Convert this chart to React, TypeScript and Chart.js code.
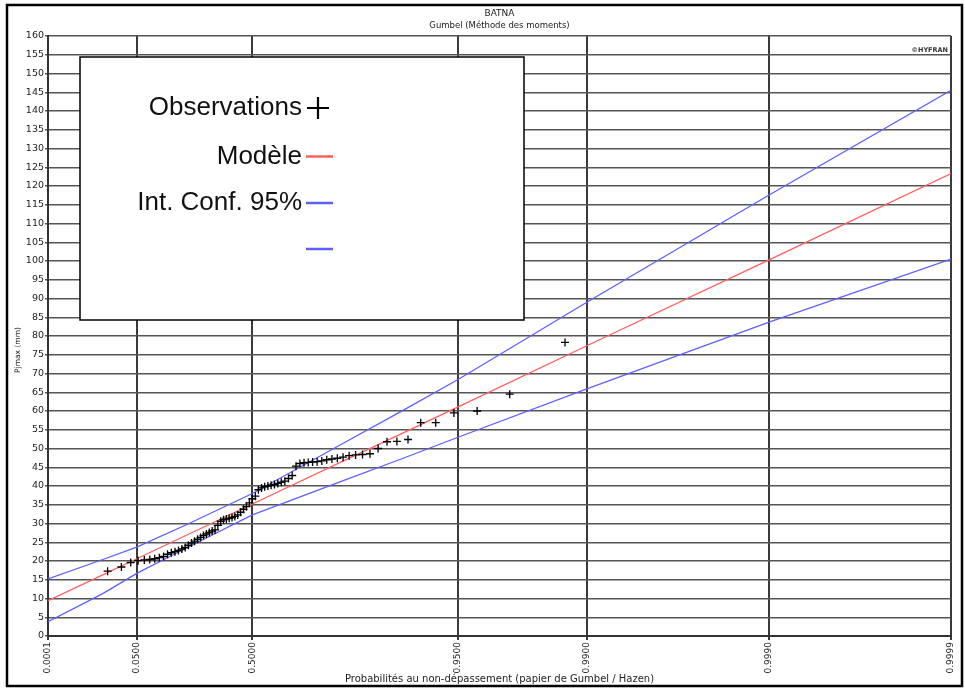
import React, { useEffect, useRef } from "react";
import { Chart, registerables } from "chart.js";

Chart.register(...registerables);

const TITLE = "BATNA";
const SUBTITLE = "Gumbel (Méthode des moments)";
const X_TITLE = "Probabilités au non-dépassement (papier de Gumbel / Hazen)";
const Y_TITLE = "Pjmax (mm)";
const LOGO = "©HYFRAN";

const legendLabels = ["Observations", "Modèle", "Int. Conf. 95%", ""];

// x-axis tick probabilities (Gumbel paper)
const tickProbs = [0.0001, 0.05, 0.5, 0.95, 0.99, 0.999, 0.9999];
const tickLabels = ["0.0001", "0.0500", "0.5000", "0.9500", "0.9900", "0.9990", "0.9999"];

// sorted observed annual maxima (mm), plotted at rank/(n+1)
const observations = [
  17.3, 18.4, 19.6, 20.1, 20.3, 20.4, 20.6, 20.9, 21.2, 21.8,
  22.2, 22.5, 22.8, 23.2, 23.6, 24.2, 24.8, 25.3, 25.8, 26.3,
  26.8, 27.2, 27.6, 28.0, 28.3, 29.5, 30.6, 31.0, 31.2, 31.4,
  31.6, 31.9, 32.3, 33.0, 33.8, 34.5, 35.5, 36.6, 37.3, 39.0,
  39.5, 39.8, 40.0, 40.2, 40.4, 40.7, 41.0, 41.3, 42.0, 42.8,
  45.3, 46.0, 46.2, 46.3, 46.4, 46.5, 46.7, 47.0, 47.2, 47.4,
  47.7, 48.1, 48.3, 48.4, 48.6, 50.0, 51.8, 51.9, 52.4, 56.9,
  56.9, 59.5, 60.0, 64.5, 78.3,
];

// model and 95% confidence bounds read at these probabilities
const curveProbs = [0.0001, 0.01, 0.05, 0.2, 0.5, 0.8, 0.9, 0.95, 0.99, 0.999, 0.9999];
const modelValues = [9.4, 16.3, 20.6, 26.8, 35.2, 46.5, 53.9, 61.1, 77.4, 100.3, 123.3];
const upperValues = [15.2, 20.4, 23.7, 29.6, 38.0, 51.2, 59.9, 68.4, 89.0, 117.6, 145.5];
const lowerValues = [3.8, 11.3, 16.7, 23.4, 32.3, 41.3, 47.2, 53.0, 65.9, 83.7, 100.5];

const gumbel = (p: number) => -Math.log(-Math.log(p));

const RED = "rgb(255,95,95)";
const BLUE = "rgb(95,95,255)";

const decorPlugin = {
  id: "decor",
  afterDraw(chart: any) {
    const ctx = chart.ctx as CanvasRenderingContext2D;
    const { left, right, top, bottom } = chart.chartArea;
    const cx = (left + right) / 2;
    ctx.save();

    // outer frame
    ctx.strokeStyle = "#000";
    ctx.lineWidth = 2.5;
    ctx.strokeRect(7, 5, 955, 681);

    // titles
    ctx.fillStyle = "#222";
    ctx.textAlign = "center";
    ctx.textBaseline = "middle";
    ctx.font = "9px 'DejaVu Sans'";
    ctx.fillText(TITLE, cx, 14);
    ctx.font = "8.5px 'DejaVu Sans'";
    ctx.fillText(SUBTITLE, cx, 26);

    // x title
    ctx.font = "10px 'DejaVu Sans'";
    ctx.fillText(X_TITLE, cx, 679);

    // y title
    ctx.save();
    ctx.translate(18, 350);
    ctx.rotate(-Math.PI / 2);
    ctx.font = "7.5px 'DejaVu Sans'";
    ctx.fillText(Y_TITLE, 0, 0);
    ctx.restore();

    // logo
    ctx.font = "bold 6.5px 'DejaVu Sans'";
    ctx.textAlign = "right";
    ctx.fillStyle = "#333";
    ctx.fillText(LOGO, right - 3, 50);

    // legend box
    const bx = 80, by = 57, bw = 444, bh = 263;
    ctx.fillStyle = "#fff";
    ctx.fillRect(bx, by, bw, bh);
    ctx.strokeStyle = "#000";
    ctx.lineWidth = 1.5;
    ctx.strokeRect(bx, by, bw, bh);

    const rowsY = [108, 156.5, 203, 249];
    ctx.font = "26px 'Liberation Sans'";
    ctx.fillStyle = "#111";
    ctx.textAlign = "right";
    ctx.textBaseline = "middle";
    legendLabels.forEach((t, i) => {
      if (t) ctx.fillText(t, 302, rowsY[i]);
    });
    // cross symbol
    ctx.strokeStyle = "#000";
    ctx.lineWidth = 2.2;
    ctx.beginPath();
    ctx.moveTo(307, rowsY[0]);
    ctx.lineTo(329, rowsY[0]);
    ctx.moveTo(318, rowsY[0] - 11);
    ctx.lineTo(318, rowsY[0] + 11);
    ctx.stroke();
    // line symbols
    const symColors = [RED, BLUE, BLUE];
    symColors.forEach((c, i) => {
      ctx.strokeStyle = c;
      ctx.lineWidth = 2.5;
      ctx.beginPath();
      ctx.moveTo(306, rowsY[i + 1]);
      ctx.lineTo(333, rowsY[i + 1]);
      ctx.stroke();
    });

    ctx.restore();
  },
};

export default function App() {
  const ref = useRef<HTMLCanvasElement | null>(null);

  useEffect(() => {
    if (!ref.current) return;
    const n = observations.length;
    const obsData = observations.map((v, i) => ({ x: gumbel((i + 1) / (n + 1)), y: v }));
    const mk = (vals: number[]) => vals.map((v, i) => ({ x: gumbel(curveProbs[i]), y: v }));
    const tickU = tickProbs.map(gumbel);

    const chart = new Chart(ref.current, {
      type: "scatter",
      data: {
        datasets: [
          {
            label: legendLabels[0],
            data: obsData,
            pointStyle: "cross",
            pointRadius: 4,
            pointBorderWidth: 1.3,
            borderColor: "#000",
            backgroundColor: "#000",
            showLine: false,
          } as any,
          {
            label: legendLabels[1],
            data: mk(modelValues),
            showLine: true,
            borderColor: RED,
            borderWidth: 1.3,
            pointRadius: 0,
          },
          {
            label: legendLabels[2],
            data: mk(upperValues),
            showLine: true,
            borderColor: BLUE,
            borderWidth: 1.3,
            pointRadius: 0,
          },
          {
            label: "",
            data: mk(lowerValues),
            showLine: true,
            borderColor: BLUE,
            borderWidth: 1.3,
            pointRadius: 0,
          },
        ],
      },
      options: {
        animation: false,
        responsive: false,
        maintainAspectRatio: false,
        devicePixelRatio: 1,
        layout: { padding: { left: 0, top: 36, right: 14, bottom: 0 } },
        plugins: {
          legend: { display: false },
          tooltip: { enabled: false },
          title: { display: false },
        },
        scales: {
          x: {
            type: "linear",
            min: tickU[0],
            max: tickU[tickU.length - 1],
            afterBuildTicks: (scale: any) => {
              scale.ticks = tickU.map((v) => ({ value: v }));
            },
            afterFit: (scale: any) => {
              scale.height = 53;
            },
            ticks: {
              autoSkip: false,
              minRotation: 90,
              maxRotation: 90,
              padding: 2,
              color: "#222",
              font: { family: "'DejaVu Sans'", size: 9 },
              callback: (_v: any, i: number) => tickLabels[i],
            },
            grid: {
              color: "#3a3a3a",
              lineWidth: 2,
              tickLength: 4,
              drawTicks: true,
            },
            border: { color: "#333", width: 2 },
          },
          y: {
            type: "linear",
            min: 0,
            max: 160,
            afterFit: (scale: any) => {
              scale.width = 48;
            },
            ticks: {
              stepSize: 5,
              autoSkip: false,
              padding: 1,
              color: "#222",
              font: { family: "'DejaVu Sans'", size: 9.5 },
            },
            grid: {
              color: "#555",
              lineWidth: 1.5,
              tickLength: 3,
              drawTicks: true,
            },
            border: { color: "#333", width: 2 },
          },
        },
      },
      plugins: [decorPlugin],
    } as any);

    return () => chart.destroy();
  }, []);

  return (
    <div style={{ position: "absolute", left: 0, top: 0, width: 965, height: 689, background: "#fff" }}>
      <canvas ref={ref} width={965} height={689} style={{ display: "block", width: 965, height: 689 }} />
    </div>
  );
}
